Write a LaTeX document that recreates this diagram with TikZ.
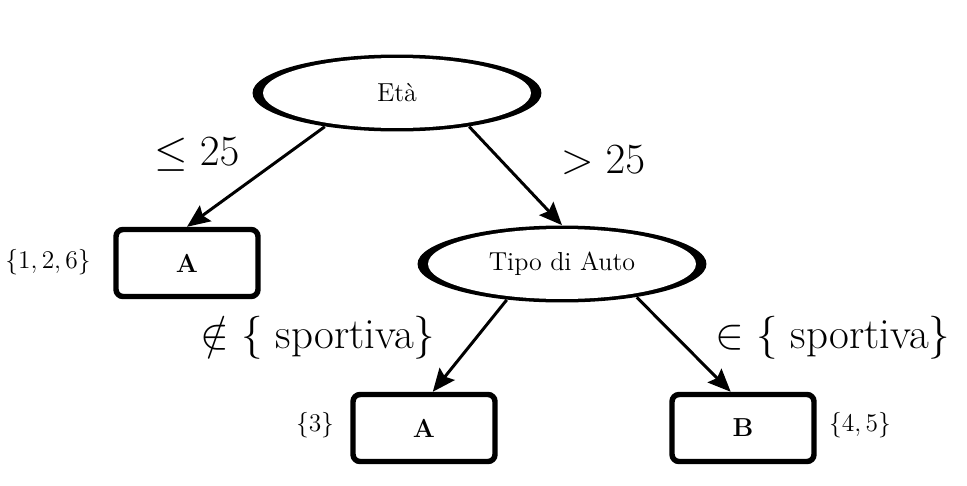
\RequirePackage{fix-cm}
\documentclass[tikz,border=0pt]{standalone}
\usetikzlibrary{shapes.geometric,arrows.meta}
\begin{document}
\begin{tikzpicture}
[x=0.02cm,y=0.02cm,
 split/.style={ellipse,fill=black,inner sep=0pt,minimum width=5.78cm,minimum height=1.54cm,
   font=\fontsize{14.8}{17}\selectfont,
   path picture={\fill[white] (path picture bounding box.center) ellipse [x radius=2.68cm,y radius=0.70cm];}},
 leaf/.style={draw,line width=3.1pt,rounded corners=4pt,minimum width=2.84cm,minimum height=1.34cm,
   font=\fontsize{14.8}{17}\selectfont\bfseries},
 subset/.style={font=\fontsize{14.5}{17}\selectfont},
 cond/.style={font=\fontsize{24.5}{29}\selectfont},
 branch/.style={line width=1.7pt,-{Stealth[length=13pt,width=11pt,inset=2pt]}}]
\useasboundingbox (0,0) rectangle (967,485);
% test nodes
\node [split] (eta) at (397,392) {Età};
\node [split] (auto) at (562,221) {Tipo di Auto};
% leaves
\node [leaf] (leafA) at (187,222) {A};
\node [leaf] (leafAA) at (424,57) {A};
\node [leaf] (leafB) at (743,57) {B};
\node [subset] (setA) at (48,223) {$\{1,2,6\}$};
\node [subset] (setAA) at (315,60) {$\{3\}$};
\node [subset] (setB) at (860,60) {$\{4,5\}$};
% branches
\draw [branch] (eta.205) -- (leafA.north);
\draw [branch] (eta.335) -- (auto.north);
\draw [branch] (auto.213) -- ([xshift=5pt]leafAA.north);
\draw [branch] (auto.336) -- ([xshift=-7pt]leafB.north);
\node [cond] (le) at (197,330) {$\leq 25$};
\node [cond] (gt) at (603,325) {$> 25$};
\node [cond] (notin) at (318,147) {$\notin \{$ sportiva$\}$};
\node [cond] (isin) at (833,147) {$\in \{$ sportiva$\}$};
\end{tikzpicture}
\end{document}
